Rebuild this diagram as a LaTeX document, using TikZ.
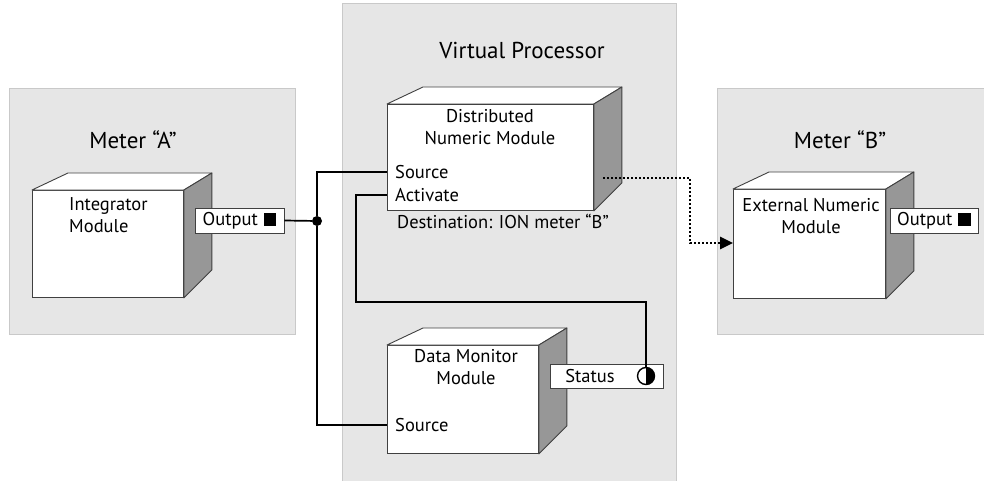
\documentclass[tikz,border=0pt]{standalone}
\usepackage{fontspec}
\setmainfont{PT Sans}
\usepackage{tikz}
\usetikzlibrary{positioning,arrows.meta,calc}
\definecolor{panelBG}{HTML}{E6E6E6}
\definecolor{panelBorder}{HTML}{C9C9C9}
\definecolor{sideFace}{HTML}{979797}
\definecolor{edgeLine}{HTML}{404040}

\begin{document}
\begin{tikzpicture}[
  x=1pt, y=-1pt,
  every node/.style={font=\fontsize{18.5}{22}\selectfont},
  panel/.style={draw=panelBorder,fill=panelBG,line width=1pt},
  title/.style={font=\fontsize{23}{26}\selectfont},
  front/.style={draw=edgeLine,fill=white,line width=0.9pt,anchor=north west,inner sep=0pt},
  topface/.style={draw=edgeLine,fill=white,line width=0.9pt,line join=round},
  sideface/.style={draw=edgeLine,fill=sideFace,line width=0.9pt,line join=round},
  modtxt/.style={align=center,inner sep=0pt,anchor=north},
  port/.style={anchor=west,inner xsep=8pt,inner ysep=0pt},
  pbox/.style={draw=edgeLine,fill=white,line width=0.9pt,minimum height=25pt,inner sep=0pt},
  wire/.style={line width=1.7pt,black},
  jdot/.style={circle,fill=black,inner sep=0pt,minimum size=10pt},
  dots/.style={line width=2.8pt,dash pattern=on 2.2pt off 1.8pt,
    -{Triangle[length=13pt,width=12pt]}},
  halfc/.style={circle,draw=black,line width=1.4pt,inner sep=0pt,minimum size=17pt,
    path picture={\fill (path picture bounding box.north) rectangle
      (path picture bounding box.south east);}}
]
  \useasboundingbox (0,0) rectangle (984,481);

  % --- panels ---
  \draw[panel] (9,89) rectangle (295,334);
  \draw[panel] (342,4) rectangle (676,490);
  \draw[panel] (717,89) rectangle (992,334);

  \node[title] (titleA) at (133,140) {Meter “A”};
  \node[title] (titleVP) at (522,50) {Virtual Processor};
  \node[title] (titleB) at (840,140) {Meter “B”};

  % --- module fronts ---
  \node[front,minimum width=151pt,minimum height=107pt] (integ) at (32,190) {};
  \node[front,minimum width=206pt,minimum height=106pt] (dnm) at (387,104) {};
  \node[front,minimum width=151pt,minimum height=108pt] (dmon) at (387,345) {};
  \node[front,minimum width=152pt,minimum height=109pt] (ext) at (733,189) {};

  % top and side faces
  \foreach \m in {integ,dnm,dmon,ext}{
    \draw[topface] (\m.north west) -- ([shift={(36,-17)}]\m.north west)
      -- ([shift={(28,-17)}]\m.north east) -- (\m.north east) -- cycle;
    \draw[sideface] (\m.north east) -- ([shift={(28,-17)}]\m.north east)
      -- ([shift={(28,-28)}]\m.south east) -- (\m.south east) -- cycle;
  }

  % module texts
  \node[modtxt,align=left,anchor=north west] (integT) at (69,197) {Integrator\\Module};
  \node[modtxt] (dnmT) at (490,109) {Distributed\\Numeric Module};
  \node[modtxt] (dmonT) at (466,349) {Data Monitor\\Module};
  \node[modtxt] (extT) at (811,198) {External Numeric\\Module};

  \node[port] (src) at (387,172) {Source};
  \node[port] (act) at (387,195) {Activate};
  \node[port] (dmsrc) at (387,425) {Source};
  \node (dest) at (503,221) {Destination: ION meter “B”};

  % --- output and status boxes ---
  \node[pbox,minimum width=89pt] (outA) at (239.5,220.5)
    {Output\hspace{6pt}\rule[-0.5pt]{12.5pt}{13pt}};
  \node[pbox,minimum width=88pt] (outB) at (934,220.5)
    {Output\hspace{6pt}\rule[-0.5pt]{12.5pt}{13pt}};
  \node[pbox,minimum width=113pt,minimum height=24pt] (stat) at (606.5,376) {};
  \node (statT) at (590,376) {Status};
  \node[halfc] (stc) at (646,376) {};

  % --- wires ---
  \node[jdot] (jn) at (317,221) {};
  \coordinate (bend) at (356,302);
  \draw[wire] (outA.east) -- (jn);
  \draw[wire] (jn) |- (src.west);
  \draw[wire] (jn) |- (dmsrc.west);
  \draw[wire] (act.west) -| (bend) -| (stc.north);

  \coordinate (dsrc) at (603,178);
  \coordinate (dbend) at (690,243);
  \draw[dots] (dsrc) -| (dbend) -- (ext.west |- dbend);
\end{tikzpicture}
\end{document}
